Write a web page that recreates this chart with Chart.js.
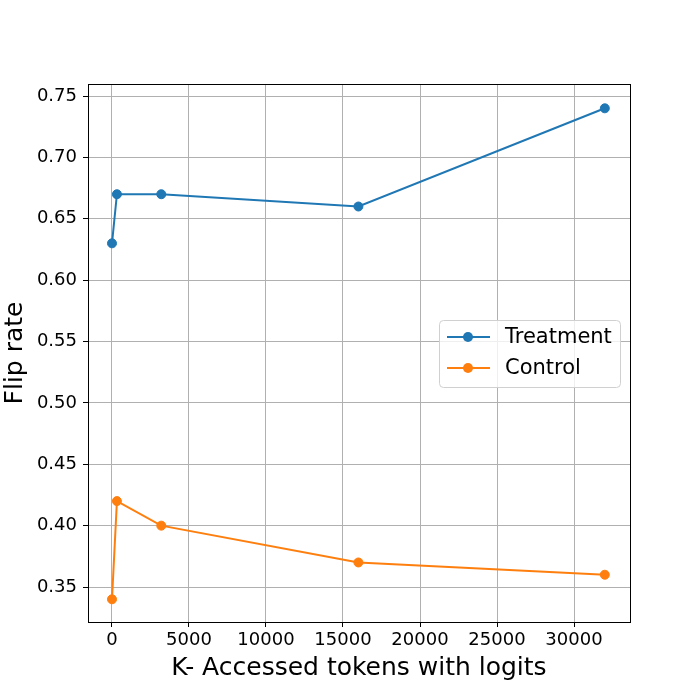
<!DOCTYPE html>
<html>
<head>
<meta charset="utf-8">
<script src="https://cdn.jsdelivr.net/npm/chart.js@4"></script>
<style>
  html, body { margin: 0; padding: 0; background: #fff; }
  #wrap { width: 700px; height: 700px; }
</style>
</head>
<body>
<div id="wrap"><canvas id="flipChart" width="700" height="700"></canvas></div>
<script>
const tokens = [0, 320, 3200, 16000, 32000];
const treatment = [0.63, 0.67, 0.67, 0.66, 0.74];
const control = [0.34, 0.42, 0.40, 0.37, 0.36];
const xTicks = [0, 5000, 10000, 15000, 20000, 25000, 30000];
const yTicks = [0.35, 0.40, 0.45, 0.50, 0.55, 0.60, 0.65, 0.70, 0.75];

const FONT = 'DejaVu Sans';

// frame around plot + legend box inside the plot (matplotlib style)
const framePlugin = {
  id: 'frame',
  afterDraw(chart) {
    const ctx = chart.ctx;
    const a = chart.chartArea;
    ctx.save();
    ctx.strokeStyle = '#000';
    ctx.lineWidth = 1;
    ctx.strokeRect(Math.round(a.left) + 0.5, Math.round(a.top) + 0.5,
      Math.round(a.right - a.left), Math.round(a.bottom - a.top));

    // legend
    const bx = 439, by = 320, bw = 181, bh = 67;
    ctx.fillStyle = 'rgba(255,255,255,0.8)';
    ctx.strokeStyle = '#d0d0d0';
    ctx.beginPath();
    ctx.roundRect(bx + 0.5, by + 0.5, bw, bh, 4);
    ctx.fill();
    ctx.stroke();
    chart.data.datasets.forEach((ds, i) => {
      const y = by + 17 + i * 31;
      ctx.strokeStyle = ds.borderColor;
      ctx.lineWidth = 2;
      ctx.beginPath();
      ctx.moveTo(447, y);
      ctx.lineTo(490, y);
      ctx.stroke();
      ctx.fillStyle = ds.borderColor;
      ctx.beginPath();
      ctx.arc(468, y, 5, 0, Math.PI * 2);
      ctx.fill();
      ctx.fillStyle = '#000';
      ctx.font = '21px ' + FONT;
      ctx.textBaseline = 'middle';
      ctx.textAlign = 'left';
      ctx.fillText(ds.label, 505, y + 1);
    });
    ctx.restore();
  }
};

new Chart(document.getElementById('flipChart'), {
  type: 'line',
  data: {
    datasets: [
      {
        label: 'Treatment',
        data: tokens.map((x, i) => ({ x: x, y: treatment[i] })),
        borderColor: '#1f77b4',
        backgroundColor: '#1f77b4',
        borderWidth: 2,
        pointRadius: 4.5,
        pointBorderWidth: 1,
        pointHoverRadius: 4.5,
        tension: 0
      },
      {
        label: 'Control',
        data: tokens.map((x, i) => ({ x: x, y: control[i] })),
        borderColor: '#ff7f0e',
        backgroundColor: '#ff7f0e',
        borderWidth: 2,
        pointRadius: 4.5,
        pointBorderWidth: 1,
        pointHoverRadius: 4.5,
        tension: 0
      }
    ]
  },
  options: {
    responsive: false,
    animation: false,
    events: [],
    layout: { padding: { left: 0, top: 84, right: 70, bottom: 0 } },
    plugins: {
      legend: { display: false },
      tooltip: { enabled: false }
    },
    scales: {
      x: {
        type: 'linear',
        min: -1558,
        max: 33636,
        afterBuildTicks(scale) { scale.ticks = xTicks.map(v => ({ value: v })); },
        afterFit(scale) { scale.height = 78; },
        grid: { color: '#b0b0b0', tickColor: '#000', tickLength: 5, lineWidth: 1 },
        border: { display: false },
        ticks: {
          color: '#000',
          font: { family: FONT, size: 18 },
          padding: 3,
          maxRotation: 0,
          autoSkip: false,
          callback: v => String(v)
        },
        title: {
          display: true,
          text: 'K- Accessed tokens with logits',
          color: '#000',
          font: { family: FONT, size: 25 },
          padding: { top: 0, bottom: 17 }
        }
      },
      y: {
        type: 'linear',
        min: 0.3215,
        max: 0.7598,
        afterBuildTicks(scale) { scale.ticks = yTicks.map(v => ({ value: v })); },
        afterFit(scale) { scale.width = 88; },
        grid: { color: '#b0b0b0', tickColor: '#000', tickLength: 5, lineWidth: 1 },
        border: { display: false },
        ticks: {
          color: '#000',
          font: { family: FONT, size: 18 },
          padding: 6,
          autoSkip: false,
          callback: v => v.toFixed(2)
        },
        title: {
          display: true,
          text: 'Flip rate',
          color: '#000',
          font: { family: FONT, size: 25 },
          padding: { top: 0, bottom: 0 }
        }
      }
    }
  },
  plugins: [framePlugin]
});
</script>
</body>
</html>
